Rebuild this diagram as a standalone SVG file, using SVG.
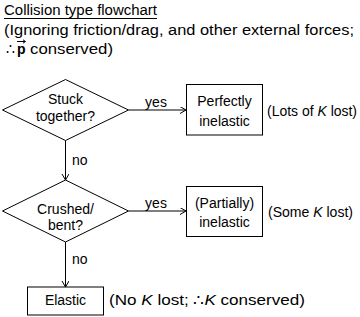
<svg xmlns="http://www.w3.org/2000/svg" width="360" height="317" viewBox="0 0 360 317">
<style>
text{font-family:"Liberation Sans",Arial,sans-serif;font-size:14px;fill:#000}
.c{text-anchor:middle}
.s{fill:#fff;stroke:#000;stroke-width:1}
.l{stroke:#000;stroke-width:1;fill:none}
</style>
<defs>
<marker id="ah" markerUnits="userSpaceOnUse" markerWidth="8" markerHeight="8" refX="6" refY="3.5" orient="auto">
<path d="M0,0 L6,3.5 L0,7" fill="none" stroke="#000" stroke-width="1"/>
</marker>
</defs>
<rect width="360" height="317" fill="#fff"/>
<g id="title">
<text x="4" y="15" textLength="153" lengthAdjust="spacingAndGlyphs">Collision type flowchart</text>
<line class="l" x1="4" y1="18.5" x2="157" y2="18.5"/>
<text x="4" y="35" textLength="350" lengthAdjust="spacingAndGlyphs">(Ignoring friction/drag, and other external forces;</text>
<text x="6" y="54">∴</text>
<text x="17" y="54" font-weight="bold">p</text>
<text x="30" y="54" textLength="83" lengthAdjust="spacingAndGlyphs">conserved)</text>
<line class="l" x1="17" y1="41.5" x2="25" y2="41.5"/>
<path class="l" d="M23,39.8 L25.5,41.5 L23,43.2"/>
</g>
<g id="connectors">
<line class="l" x1="128.5" y1="110" x2="186" y2="110" marker-end="url(#ah)"/>
<text x="156" y="107" class="c">yes</text>
<line class="l" x1="65.5" y1="140.5" x2="65.5" y2="180" marker-end="url(#ah)"/>
<text x="72" y="165">no</text>
<line class="l" x1="128.5" y1="211" x2="186" y2="211" marker-end="url(#ah)"/>
<text x="156" y="208" class="c">yes</text>
<line class="l" x1="65.5" y1="242" x2="65.5" y2="287" marker-end="url(#ah)"/>
<text x="72" y="264">no</text>
</g>
<g id="stuck">
<polygon class="s" points="2.5,110 65.5,79.5 128.5,110 65.5,140.5"/>
<text x="65.5" y="104" class="c">Stuck</text>
<text x="65.5" y="121" class="c">together?</text>
</g>
<g id="perfectly">
<rect class="s" x="186.5" y="84.5" width="76" height="50.5"/>
<text x="224.5" y="106" class="c">Perfectly</text>
<text x="224.5" y="126" class="c">inelastic</text>
<text x="267" y="116" textLength="90" lengthAdjust="spacingAndGlyphs">(Lots of <tspan font-style="italic">K</tspan> lost)</text>
</g>
<g id="crushed">
<polygon class="s" points="2.5,211 65.5,180 128.5,211 65.5,242"/>
<text x="65.5" y="214" class="c">Crushed/</text>
<text x="65.5" y="230" class="c">bent?</text>
</g>
<g id="partially">
<rect class="s" x="186.5" y="186.5" width="76" height="50"/>
<text x="224.5" y="208" class="c">(Partially)</text>
<text x="224.5" y="227" class="c">inelastic</text>
<text x="268" y="217" textLength="85" lengthAdjust="spacingAndGlyphs">(Some <tspan font-style="italic">K</tspan> lost)</text>
</g>
<g id="elastic">
<rect class="s" x="27.5" y="287" width="76" height="28"/>
<text x="65.5" y="305" class="c">Elastic</text>
<text x="109" y="305" textLength="196" lengthAdjust="spacingAndGlyphs">(No <tspan font-style="italic">K</tspan> lost; ∴<tspan font-style="italic">K</tspan> conserved)</text>
</g>
</svg>
